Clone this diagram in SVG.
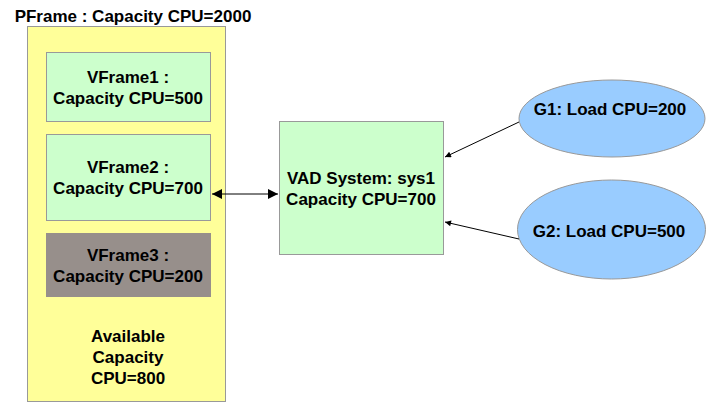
<svg xmlns="http://www.w3.org/2000/svg" width="712" height="409" viewBox="0 0 712 409">
<defs>
<style>
text{font-family:"Liberation Sans",Arial,sans-serif;font-weight:bold;font-size:17px;fill:#000;text-anchor:middle}
.box{stroke:#999;stroke-width:1}
.green{fill:#CCFFCC}
.conn{stroke:#000;stroke-width:1;fill:none}
</style>
<marker id="ah" viewBox="0 0 10 10" refX="10" refY="5" markerWidth="11" markerHeight="10" markerUnits="userSpaceOnUse" orient="auto-start-reverse"><path d="M0,0 L10,5 L0,10 z" fill="#000"/></marker>
<marker id="as" viewBox="0 0 10 10" refX="10" refY="5" markerWidth="8" markerHeight="6" markerUnits="userSpaceOnUse" orient="auto"><path d="M0,0 L10,5 L0,10 z" fill="#000"/></marker>
</defs>
<rect width="712" height="409" fill="#fff"/>
<g id="pframe">
<text x="133" y="22">PFrame : Capacity CPU=2000</text>
<rect class="box" x="27.5" y="26.5" width="198" height="375" fill="#FFFF99"/>
<text x="128" y="342">Available</text>
<text x="128" y="363">Capacity</text>
<text x="128" y="384">CPU=800</text>
</g>
<g id="vframe1">
<rect class="box green" x="46.5" y="52.5" width="164" height="69"/>
<text x="128" y="83">VFrame1 :</text>
<text x="128" y="104">Capacity CPU=500</text>
</g>
<g id="vframe2">
<rect class="box green" x="46.5" y="134.5" width="164" height="86"/>
<text x="128" y="173">VFrame2 :</text>
<text x="128" y="194">Capacity CPU=700</text>
</g>
<g id="vframe3">
<rect x="46" y="233" width="165" height="64" fill="#978F8B"/>
<text x="128" y="261">VFrame3 :</text>
<text x="128" y="282">Capacity CPU=200</text>
</g>
<g id="vad">
<rect class="box green" x="279.5" y="121.5" width="164" height="133"/>
<text x="361" y="184">VAD System: sys1</text>
<text x="361" y="205">Capacity CPU=700</text>
</g>
<g id="g1">
<ellipse cx="612" cy="118.5" rx="93" ry="38.5" fill="#99CCFF" stroke="#999"/>
<text x="610" y="115">G1: Load CPU=200</text>
</g>
<g id="g2">
<ellipse cx="611.5" cy="229.5" rx="94" ry="49.5" fill="#99CCFF" stroke="#999"/>
<text x="609" y="237">G2: Load CPU=500</text>
</g>
<g id="connectors">
<line class="conn" x1="212" y1="194" x2="278" y2="194" marker-start="url(#ah)" marker-end="url(#ah)"/>
<line class="conn" x1="519" y1="122" x2="445" y2="157" marker-end="url(#as)"/>
<line class="conn" x1="519" y1="239" x2="445" y2="222" marker-end="url(#as)"/>
</g>
</svg>
